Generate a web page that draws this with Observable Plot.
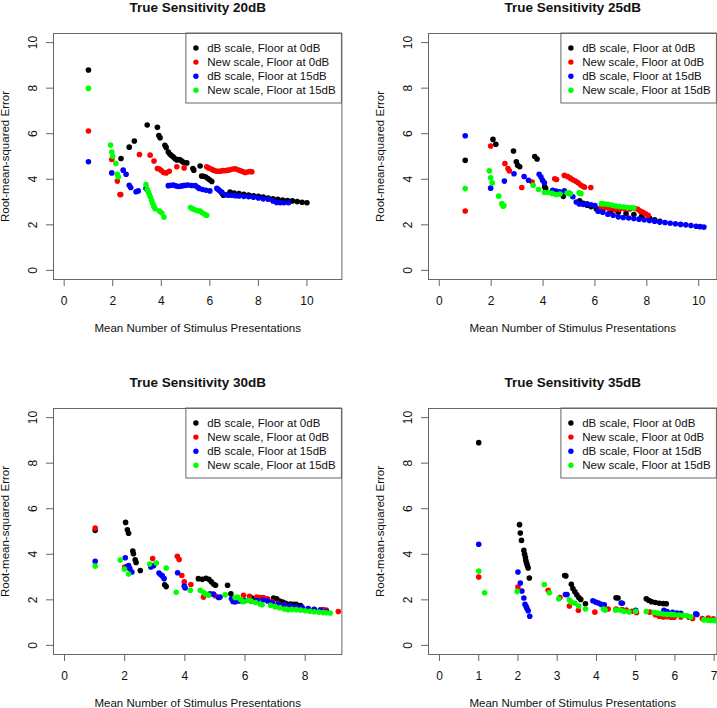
<!DOCTYPE html>
<html><head><meta charset="utf-8">
<script src="https://cdn.jsdelivr.net/npm/d3@7"></script>
<script src="https://cdn.jsdelivr.net/npm/@observablehq/plot@0.6"></script>
<style>
html,body{margin:0;padding:0;background:#fff;}
#page{position:relative;width:717px;height:708px;overflow:hidden;background:#fff;}
.panel{position:absolute;}
</style></head><body><div id="page"></div>
<script>
// ---- Data: [mean presentations, RMSE] ----
const black20 = [[1.0,8.8],[2.34,4.91],[2.68,5.41],[2.89,5.68],[3.42,6.38],[3.84,6.28],[3.9,5.92],[3.95,5.82],[4.15,5.49],[4.2,5.4],[4.29,5.2],[4.36,5.1],[4.43,5.03],[4.5,4.98],[4.57,4.9],[4.64,4.85],[4.7,4.87],[4.77,4.86],[4.84,4.8],[4.91,4.75],[5.05,4.72],[5.3,4.47],[5.34,4.4],[5.6,4.58],[5.66,4.14],[5.74,4.13],[5.83,4.1],[5.92,4.03],[6.0,3.97],[6.08,3.9],[6.35,3.55],[6.49,3.4],[6.56,3.3],[6.83,3.44],[7.0,3.4],[7.2,3.37],[7.4,3.34],[7.6,3.31],[7.8,3.28],[8.0,3.25],[8.2,3.22],[8.4,3.18],[8.6,3.14],[8.8,3.12],[9.0,3.09],[9.2,3.07],[9.4,3.05],[9.6,3.02],[9.8,2.99],[10.0,2.97]];
const red20 = [[1.0,6.12],[1.96,4.87],[2.19,3.92],[2.3,3.33],[2.33,3.33],[3.1,5.09],[3.54,5.06],[3.7,4.8],[3.84,4.47],[3.92,4.45],[4.0,4.38],[4.1,4.3],[4.2,4.28],[4.33,4.35],[4.64,4.55],[4.94,4.5],[5.87,4.55],[5.95,4.5],[6.05,4.45],[6.15,4.4],[6.25,4.36],[6.35,4.35],[6.45,4.36],[6.55,4.38],[6.65,4.38],[6.75,4.4],[6.85,4.42],[6.95,4.45],[7.05,4.46],[7.15,4.42],[7.25,4.38],[7.35,4.34],[7.45,4.3],[7.55,4.32],[7.65,4.34],[7.73,4.33]];
const blue20 = [[1.0,4.77],[1.96,4.28],[2.43,4.4],[2.55,4.22],[2.68,3.74],[2.74,3.64],[2.96,3.45],[3.05,3.49],[3.37,3.6],[4.29,3.72],[4.4,3.74],[4.5,3.75],[4.6,3.71],[4.7,3.68],[4.8,3.7],[4.9,3.72],[5.0,3.74],[5.1,3.75],[5.25,3.73],[5.4,3.72],[5.5,3.65],[5.56,3.6],[5.7,3.55],[5.84,3.52],[6.0,3.49],[6.29,3.6],[6.4,3.5],[6.49,3.44],[6.63,3.33],[6.75,3.3],[6.9,3.3],[7.05,3.28],[7.2,3.27],[7.4,3.25],[7.6,3.23],[7.8,3.21],[8.0,3.18],[8.2,3.14],[8.4,3.12],[8.6,3.05],[8.75,2.98],[8.9,2.97],[9.05,2.97],[9.24,2.97]];
const green20 = [[1.0,7.99],[1.91,5.5],[1.96,5.2],[2.0,5.0],[2.13,4.69],[2.19,4.22],[2.23,4.1],[3.37,3.77],[3.42,3.55],[3.46,3.45],[3.5,3.35],[3.55,3.22],[3.6,3.08],[3.64,2.95],[3.69,2.82],[3.74,2.71],[3.92,2.61],[4.02,2.52],[4.11,2.34],[5.21,2.76],[5.3,2.7],[5.4,2.65],[5.5,2.62],[5.6,2.6],[5.7,2.52],[5.8,2.45],[5.87,2.42]];

const black25 = [[1.0,4.83],[2.07,5.75],[2.18,5.54],[2.86,5.24],[2.97,4.77],[3.02,4.62],[3.1,4.55],[3.68,5.0],[3.77,4.89],[4.06,3.67],[4.1,3.6],[4.78,3.25],[5.41,3.05],[5.55,2.95],[5.7,2.86],[5.85,2.8],[6.05,2.71],[6.3,2.65],[6.6,2.6],[6.9,2.55],[7.2,2.5],[7.5,2.45],[7.8,2.38],[8.1,2.3],[8.3,2.22],[8.5,2.15]];
const red25 = [[1.0,2.61],[1.98,5.46],[2.53,4.69],[2.65,4.47],[2.7,4.37],[3.18,3.64],[3.58,3.88],[4.45,4.02],[4.52,3.99],[4.82,4.17],[4.95,4.12],[5.05,4.05],[5.15,3.98],[5.25,3.92],[5.35,3.85],[5.45,3.75],[5.55,3.68],[5.6,3.65],[5.84,3.64],[6.25,2.79],[6.4,2.75],[6.55,2.72],[6.75,2.66],[6.95,2.68],[7.15,2.7],[7.35,2.7],[7.55,2.72],[7.65,2.68],[7.75,2.6],[7.85,2.55],[7.95,2.48],[8.05,2.42]];
const blue25 = [[1.0,5.91],[1.98,3.61],[2.51,3.92],[2.88,4.24],[3.27,4.12],[3.44,3.96],[3.85,4.22],[3.92,4.1],[3.98,3.96],[4.05,3.84],[4.37,3.52],[4.5,3.48],[4.63,3.45],[4.82,3.49],[5.02,3.38],[5.15,3.23],[5.28,3.0],[5.4,2.92],[5.55,2.9],[5.7,2.92],[5.85,2.88],[6.0,2.85],[6.12,2.6],[6.3,2.55],[6.5,2.47],[6.7,2.42],[6.9,2.35],[7.09,2.32],[7.3,2.3],[7.5,2.28],[7.7,2.25],[7.9,2.22],[8.1,2.19],[8.3,2.16],[8.5,2.12],[8.7,2.1],[8.9,2.07],[9.1,2.05],[9.3,2.02],[9.5,2.0],[9.7,1.97],[9.9,1.94],[10.05,1.92],[10.2,1.9]];
const green25 = [[1.0,3.59],[1.93,4.37],[1.98,4.07],[2.04,3.84],[2.29,3.26],[2.41,2.93],[2.46,2.82],[2.49,2.85],[3.62,3.74],[3.83,3.55],[4.05,3.42],[4.2,3.42],[4.35,3.38],[4.5,3.33],[4.65,3.35],[4.93,3.4],[5.05,3.37],[5.39,3.41],[5.46,3.37],[6.25,2.93],[6.35,2.92],[6.5,2.9],[6.65,2.87],[6.8,2.83],[6.95,2.8],[7.1,2.78],[7.25,2.76],[7.4,2.75],[7.5,2.74]];

const black30 = [[1.02,5.05],[2.03,5.4],[2.09,5.08],[2.13,4.92],[2.27,4.14],[2.29,4.02],[2.35,3.76],[2.38,3.64],[2.52,3.29],[3.33,2.66],[3.38,2.58],[4.45,2.93],[4.58,2.9],[4.7,2.95],[4.8,2.9],[4.88,2.79],[4.96,2.68],[5.02,2.64],[5.42,2.64],[5.53,2.27],[6.2,2.1],[6.3,2.05],[6.95,2.08],[7.05,2.05],[7.15,1.95],[7.25,1.9],[7.35,1.85],[7.5,1.82],[7.6,1.8],[7.7,1.8],[7.85,1.75]];
const red30 = [[1.02,5.15],[2.0,3.44],[2.93,3.81],[3.75,3.91],[3.81,3.77],[3.9,3.07],[3.98,2.79],[4.2,2.67],[4.62,2.12],[5.01,2.18],[5.95,2.2],[6.15,2.15],[6.39,2.12],[6.5,2.1],[6.61,2.1],[6.75,2.05],[6.9,1.92],[7.1,1.85],[7.3,1.78],[7.5,1.72],[7.7,1.68],[7.9,1.63],[8.1,1.6],[8.3,1.57],[8.5,1.55],[8.6,1.57],[8.7,1.55],[9.1,1.49]];
const blue30 = [[1.02,3.69],[2.02,3.85],[2.09,3.46],[2.13,3.5],[2.17,3.37],[2.24,3.22],[2.87,3.44],[2.96,3.5],[3.14,3.18],[3.2,3.1],[3.25,3.05],[3.31,2.93],[3.76,3.19],[3.98,2.6],[4.01,2.52],[4.84,2.27],[4.95,2.25],[5.12,2.1],[5.17,2.12],[5.55,2.05],[5.6,1.93],[5.67,1.91],[5.8,1.95],[6.0,1.97],[6.2,1.95],[6.4,1.97],[6.6,2.0],[6.75,1.95],[6.9,1.88],[7.1,1.82],[7.3,1.78],[7.5,1.73],[7.7,1.7],[7.9,1.66],[8.1,1.62],[8.3,1.58],[8.5,1.55],[8.7,1.5]];
const green30 = [[1.02,3.48],[1.85,3.75],[1.99,3.35],[2.13,3.13],[2.83,3.57],[3.05,3.62],[3.38,3.4],[3.71,2.33],[4.18,2.42],[4.51,2.42],[4.62,2.32],[4.7,2.25],[4.79,2.2],[5.34,2.22],[5.67,2.1],[5.75,2.12],[5.85,2.02],[5.94,1.92],[6.1,1.98],[6.2,1.95],[6.35,1.88],[6.5,1.82],[6.57,1.78],[6.85,1.76],[7.0,1.7],[7.15,1.65],[7.3,1.6],[7.43,1.56],[7.55,1.58],[7.7,1.57],[7.85,1.55],[8.0,1.52],[8.15,1.5],[8.3,1.48],[8.45,1.46],[8.6,1.44],[8.7,1.43],[8.83,1.42]];

const black35 = [[1.0,8.9],[2.04,5.3],[2.06,4.93],[2.09,4.61],[2.15,4.17],[2.17,4.0],[2.19,3.86],[2.2,3.73],[2.22,3.61],[2.24,3.5],[2.26,3.4],[2.29,2.96],[3.19,3.07],[3.22,3.05],[3.36,2.68],[3.4,2.5],[3.45,2.35],[3.5,2.22],[3.55,2.1],[3.6,2.02],[3.72,1.83],[4.5,2.09],[4.55,2.08],[5.27,2.05],[5.33,1.98],[5.4,1.92],[5.5,1.88],[5.6,1.85],[5.7,1.84],[5.78,1.83]];
const red35 = [[1.0,3.0],[2.0,2.56],[2.77,2.42],[3.07,2.1],[3.31,1.73],[3.54,1.54],[3.96,1.46],[4.3,1.6],[4.5,1.6],[4.65,1.57],[4.76,1.55],[4.9,1.5],[5.02,1.43],[5.36,1.46],[5.5,1.35],[5.6,1.28],[5.7,1.25],[5.8,1.26],[5.9,1.24],[5.98,1.24],[6.15,1.25],[6.36,1.24],[6.45,1.18],[6.7,1.18],[6.85,1.2],[6.98,1.17]];
const blue35 = [[1.0,4.44],[2.0,3.22],[2.06,2.74],[2.1,2.39],[2.15,2.08],[2.18,1.8],[2.21,1.7],[2.23,1.62],[2.26,1.52],[2.3,1.28],[3.21,2.23],[3.25,2.23],[3.91,1.96],[3.98,1.9],[4.05,1.86],[4.12,1.8],[4.2,1.78],[4.63,1.86],[4.66,1.85],[5.0,1.54],[5.72,1.54],[5.8,1.49],[5.94,1.45],[6.05,1.42],[6.15,1.41],[6.53,1.39],[6.56,1.36]];
const green35 = [[1.0,3.26],[1.15,2.31],[1.98,2.37],[2.67,2.67],[2.8,2.31],[3.04,2.05],[3.31,2.0],[3.36,1.9],[3.45,1.85],[3.55,1.73],[3.72,1.6],[4.18,1.6],[4.22,1.55],[4.49,1.55],[4.6,1.55],[4.7,1.5],[4.83,1.47],[5.0,1.5],[5.27,1.49],[5.47,1.45],[5.55,1.42],[5.62,1.4],[5.7,1.38],[5.8,1.36],[5.9,1.36],[5.98,1.35],[6.1,1.33],[6.2,1.32],[6.3,1.3],[6.4,1.25],[6.74,1.12],[6.85,1.1],[6.92,1.1],[7.0,1.1],[7.06,1.08]];

const seriesNames = ["dB scale, Floor at 0dB", "New scale, Floor at 0dB", "dB scale, Floor at 15dB", "New scale, Floor at 15dB"];
const seriesColors = ["#000000", "#FF0000", "#0000FF", "#00FF00"];
const titles = ["True Sensitivity 20dB", "True Sensitivity 25dB", "True Sensitivity 30dB", "True Sensitivity 35dB"];
const xTickSets = [[0,2,4,6,8,10], [0,2,4,6,8,10], [0,2,4,6,8], [0,1,2,3,4,5,6,7]];
const yTicks = [0,2,4,6,8,10];
const xLabel = "Mean Number of Stimulus Presentations";
const yLabel = "Root-mean-squared Error";

// layout
const W = 375, H = 375, ML = 70, MT = 53, FW = 288.4, FH = 246;
const panels = [
  {fx: 53.3, fy: 33.3, xDomain: [-0.44, 11.44], series: [black20, red20, blue20, green20]},
  {fx: 427.5, fy: 33.3, xDomain: [-0.415, 10.70], series: [black25, red25, blue25, green25]},
  {fx: 53.3, fy: 408.3, xDomain: [-0.366, 9.22], series: [black30, red30, blue30, green30]},
  {fx: 427.5, fy: 408.3, xDomain: [-0.28, 7.07], series: [black35, red35, blue35, green35]}
];

const FONT = "'Liberation Sans', Arial, Helvetica, sans-serif";
const LINE = "#666";
const TXT = "#111";

function legendMark(index, scales, values, dims) {
  const g = d3.create("svg:g");
  const right = dims.width - dims.marginRight;
  const top = dims.marginTop;
  const lw = 155.5, lh = 70;
  const x0 = right - lw;
  g.append("rect").attr("x", x0).attr("y", top).attr("width", lw).attr("height", lh)
    .attr("fill", "none").attr("stroke", LINE).attr("stroke-width", 1);
  seriesNames.forEach((n, i) => {
    const cy = top + 15 + i * 14.1;
    g.append("circle").attr("cx", x0 + 10).attr("cy", cy).attr("r", 2.7).attr("fill", seriesColors[i]);
    g.append("text").attr("x", x0 + 21.3).attr("y", cy).attr("dy", "0.35em")
      .attr("text-anchor", "start")
      .attr("fill", TXT).attr("font-size", 11.5).attr("font-family", FONT).text(n);
  });
  return g.node();
}

const page = document.getElementById("page");
panels.forEach((p, k) => {
  const marks = [
    Plot.frame({stroke: LINE, strokeWidth: 1}),
    Plot.axisX({ticks: xTickSets[k], tickSize: 7, tickFormat: () => "", label: null, stroke: LINE}),
    Plot.axisY({ticks: yTicks, tickSize: 7, tickFormat: () => "", label: null, stroke: LINE}),
    Plot.text(xTickSets[k], {x: d => d, frameAnchor: "bottom", dy: 21.7, lineAnchor: "middle", text: d => String(d), fontSize: 12, fill: TXT}),
    Plot.text(yTicks, {y: d => d, frameAnchor: "left", dx: -20.3, rotate: -90, lineAnchor: "middle", textAnchor: "middle", text: d => String(d), fontSize: 12, fill: TXT}),
    Plot.text([xLabel], {frameAnchor: "bottom", dy: 49, lineAnchor: "middle", text: d => d, fontSize: 11.5, fill: TXT}),
    Plot.text([yLabel], {frameAnchor: "left", dx: -48, rotate: -90, lineAnchor: "middle", textAnchor: "middle", text: d => d, fontSize: 11.5, fill: TXT}),
    Plot.text([titles[k]], {frameAnchor: "top", dy: -25.5, lineAnchor: "middle", text: d => d, fontSize: 13.5, fontWeight: "bold", fill: TXT}),
    ...p.series.map((s, i) => Plot.dot(s, {x: d => d[0], y: d => d[1], r: 2.8, fill: seriesColors[i], stroke: "none", clip: true})),
    legendMark
  ];
  const chart = Plot.plot({
    width: W, height: H,
    marginLeft: ML, marginRight: W - ML - FW, marginTop: MT, marginBottom: H - MT - FH,
    x: {domain: p.xDomain, axis: null},
    y: {domain: [-0.4, 10.4], axis: null},
    style: {fontFamily: FONT, fontSize: "12px", background: "transparent", color: TXT, overflow: "visible"},
    marks
  });
  chart.classList.add("panel");
  chart.style.left = (p.fx - ML) + "px";
  chart.style.top = (p.fy - MT) + "px";
  page.appendChild(chart);
});
</script></body></html>
